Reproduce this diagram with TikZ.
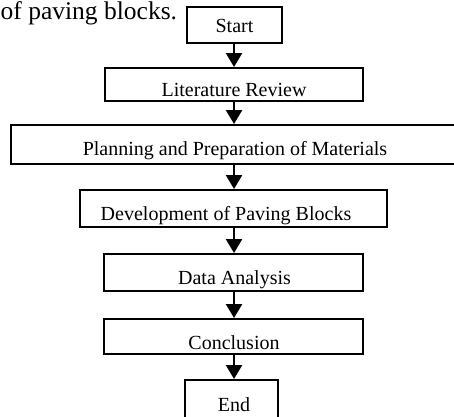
\documentclass[tikz,border=0pt]{standalone}
\usepackage{fontspec}
\setmainfont{Liberation Serif}
\usetikzlibrary{arrows.meta}
\begin{document}
\begin{tikzpicture}[x=1pt,y=-1pt,
  box/.style={draw=black,line width=2pt,rectangle,inner sep=0pt},
  lbl/.style={anchor=base,inner sep=0pt,font=\fontsize{20}{24}\selectfont},
  arr/.style={line width=2.5pt,-{Triangle[length=14pt,width=16pt]}}]
\useasboundingbox (0,0) rectangle (454,416);
\node[anchor=base west,inner sep=0pt,font=\fontsize{25.5}{30}\selectfont] (intro) at (0.5,19) {of paving blocks.};
\node[box,minimum width=95pt,minimum height=36pt] (start) at (234.5,25) {};
\node[box,minimum width=258pt,minimum height=33pt] (lit) at (234,84.5) {};
\node[box,minimum width=459pt,minimum height=39pt] (plan) at (240.5,144.5) {};
\node[box,minimum width=307pt,minimum height=37pt] (dev) at (233.5,208.5) {};
\node[box,minimum width=259pt,minimum height=37pt] (data) at (233.5,272.5) {};
\node[box,minimum width=259pt,minimum height=35pt] (conc) at (233.5,336.5) {};
\node[box,minimum width=93pt,minimum height=50pt] (end) at (231.5,405) {};
\node[lbl] (tstart) at (234.5,32) {Start};
\node[lbl] (tlit) at (234,96) {Literature Review};
\node[lbl] (tplan) at (235,155) {Planning and Preparation of Materials};
\node[lbl] (tdev) at (226,220) {Development of Paving Blocks};
\node[lbl] (tdata) at (234.5,284) {Data Analysis};
\node[lbl] (tconc) at (234,349) {Conclusion};
\node[lbl] (tend) at (234,411) {End};
\coordinate (ax) at (234,0);
\draw[arr] (start.south -| ax) -- (lit.north -| ax);
\draw[arr] (lit.south -| ax) -- (plan.north -| ax);
\draw[arr] (plan.south -| ax) -- (dev.north -| ax);
\draw[arr] (dev.south -| ax) -- (data.north -| ax);
\draw[arr] (data.south -| ax) -- (conc.north -| ax);
\draw[arr] (conc.south -| ax) -- (end.north -| ax);
\end{tikzpicture}
\end{document}
